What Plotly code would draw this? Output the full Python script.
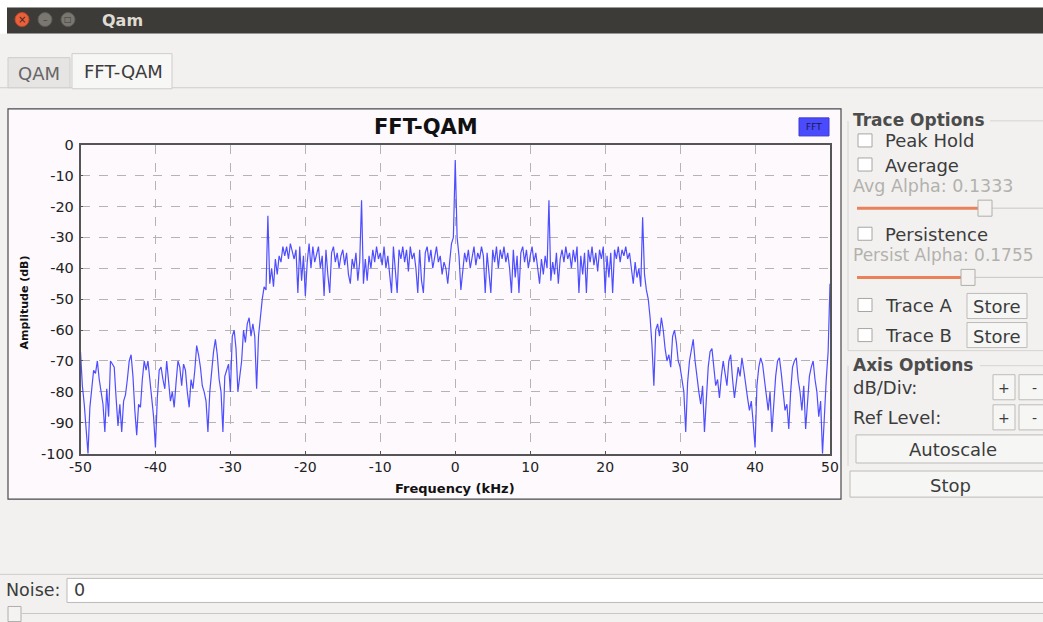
import numpy as np
import plotly.graph_objs as go

W, H = 1043, 622

# FFT magnitude in dB, 0.25 kHz bins from -50 kHz to +50 kHz
lower_tail = [
    -67, -78, -84, -91, -100, -85, -78, -73, -74, -70, -76, -80, -84, -93, -79, -88, -70, -71, -72, -82,
    -91, -84, -93, -83, -81, -76, -70, -68, -75, -86, -94, -84, -85, -76, -70, -73, -70, -76, -83, -88,
    -98, -82, -73, -72, -76, -79, -70, -76, -83, -80, -85, -77, -70, -72, -78, -71, -73, -80, -85, -76,
    -79, -73, -65, -68, -72, -78, -80, -83, -93, -80, -72, -67, -63, -68, -76, -80, -93, -75, -73, -71,
    -80, -62, -60, -66, -80, -75, -70, -60, -64, -58, -56, -62, -58, -62, -79, -62, -55, -50, -46, -47,
]
left_edge_tone = [-23]
lower_band = [
    -45, -40, -46, -37, -42, -36, -38, -33, -36, -33,
    -37, -32, -35, -37, -34, -48, -33, -44, -36, -49,
    -38, -32, -40, -33, -38, -35, -33, -40, -36, -49,
    -34, -42, -48, -35, -33, -38, -35, -40, -36, -34,
    -39, -35, -42, -45, -37, -40, -35, -44, -38, -18,
    -45, -37, -44, -36, -40, -34, -38, -33, -37, -35,
    -39, -33, -40, -36, -42, -48, -33, -40, -48, -34,
    -37, -33, -38, -34, -41, -33, -37, -35, -40, -48,
    -34, -44, -48, -35, -33, -38, -34, -40, -36, -33,
    -38, -36, -42, -38, -40, -45, -38, -32, -30,
]
carrier = [-5]
upper_band = [
    -30, -36, -47, -40, -35, -38, -34, -40, -36, -33,
    -39, -35, -37, -33, -36, -48, -35, -42, -48, -34,
    -38, -33, -40, -34, -37, -33, -38, -35, -40, -48,
    -34, -43, -36, -48, -35, -33, -38, -34, -40, -36,
    -33, -38, -35, -40, -45, -37, -42, -36, -40, -18,
    -44, -38, -42, -35, -45, -37, -34, -38, -33, -37,
    -35, -40, -34, -38, -33, -48, -36, -42, -35, -48,
    -34, -38, -33, -39, -35, -41, -34, -37, -33, -48,
    -36, -43, -35, -48, -34, -37, -33, -38, -34, -36,
    -33, -37, -35, -40, -45, -38, -43, -40, -46,
]
right_edge_tone = [-23.5]
upper_tail = [
    -42, -47, -50, -56, -65, -78, -60, -58, -62, -56,
    -60, -66, -70, -68, -72, -62, -60, -64, -70, -72,
    -76, -80, -93, -77, -70, -66, -63, -70, -76, -80,
    -84, -78, -93, -82, -72, -67, -66, -72, -78, -76,
    -82, -75, -70, -74, -78, -70, -68, -76, -82, -77,
    -72, -75, -69, -73, -78, -82, -86, -83, -90, -98,
    -78, -72, -69, -71, -76, -82, -86, -80, -93, -84,
    -75, -70, -69, -74, -80, -86, -84, -92, -80, -72,
    -70, -69, -76, -80, -86, -78, -92, -82, -75, -72,
    -70, -76, -80, -88, -83, -100, -86, -76, -67, -45,
]

amp_db = lower_tail + left_edge_tone + lower_band + carrier + upper_band + right_edge_tone + upper_tail
freq_khz = np.linspace(-50, 50, len(amp_db))

x_ticks = list(range(-50, 51, 10))
y_ticks = list(range(-100, 1, 10))

GTK_FONT = 'DejaVu Sans'
PLOT_FONT = 'DejaVu Sans'

# the page ends up drawing the figure slightly inset, so window pixels are
# mapped onto that box (offset and size measured from earlier renders)
OX, OY = 11.0, 8.5
FW, FH = 1023.0, 604.0


def px(x):
    return (x - OX) / FW


def py(y):
    return 1 - (y - OY) / FH


def rect(x0, y0, x1, y1, fill, line='rgba(0,0,0,0)', width=1):
    return dict(type='rect', xref='paper', yref='paper', layer='below',
                x0=px(x0), y0=py(y1), x1=px(x1), y1=py(y0),
                fillcolor=fill, line=dict(color=line, width=width))


def hline(x0, x1, y, color, width=1):
    return dict(type='line', xref='paper', yref='paper', layer='below',
                x0=px(x0), x1=px(x1), y0=py(y), y1=py(y),
                line=dict(color=color, width=width))


def vline(x, y0, y1, color, width=1):
    return dict(type='line', xref='paper', yref='paper', layer='below',
                x0=px(x), x1=px(x), y0=py(y0), y1=py(y1),
                line=dict(color=color, width=width))


def circle(cx, cy, r, fill, line='rgba(0,0,0,0)'):
    return dict(type='circle', xref='paper', yref='paper', layer='below',
                x0=px(cx - r), x1=px(cx + r), y0=py(cy + r), y1=py(cy - r),
                fillcolor=fill, line=dict(color=line, width=1))


def label(x, y, text, size=18, color='#3c3c3c', bold=False, anchor='left', font=GTK_FONT, angle=0):
    if bold:
        text = '<b>' + text + '</b>'
    return dict(xref='paper', yref='paper', x=px(x), y=py(y), text=text,
                showarrow=False, xanchor=anchor, yanchor='middle', textangle=angle,
                font=dict(family=font, size=size, color=color))


shapes = []
annotations = []

# window title bar
shapes.append(rect(0, 0, W, 8, '#ffffff'))
shapes.append(rect(0, 0, 7, 34, '#ffffff'))
shapes.append(rect(7, 8, W + 20, 34, '#3c3b37'))
shapes.append(circle(22, 20, 7, '#e9603a', '#c0462a'))
shapes.append(circle(45, 20, 7, '#79776f', '#5d5b55'))
shapes.append(circle(68, 20, 7, '#79776f', '#5d5b55'))
annotations.append(label(22, 20, '×', size=10, color='#3c2a20', anchor='center'))
annotations.append(label(45, 20, '–', size=9, color='#3c3b37', anchor='center'))
annotations.append(label(68, 20, '□', size=8, color='#3c3b37', anchor='center'))
annotations.append(label(100, 21, 'Qam', size=16, color='#dfdbd2', bold=True))

# notebook tabs
shapes.append(hline(0, W + 20, 88, '#cfcdca'))
shapes.append(rect(8, 58, 70, 88, '#e6e5e3', '#cfcdca'))
shapes.append(rect(72, 54, 172, 89, '#f7f7f6', '#cfcdca'))
annotations.append(label(39, 74, 'QAM', size=18, color='#666', anchor='center'))
annotations.append(label(123, 72, 'FFT-QAM', size=18, color='#3c3c3c', anchor='center'))

# fft widget frame
shapes.append(rect(8, 109, 841, 498, '#fdf9fd', '#4a4a4a', 1.2))
annotations.append(label(426, 127, 'FFT-QAM', size=21, color='#111', bold=True, anchor='center', font=PLOT_FONT))
shapes.append(rect(799, 118, 829, 136, '#4a4aff', '#3a3ad0'))
annotations.append(label(814, 127, 'FFT', size=9, color='#1a1a40', anchor='center', font=PLOT_FONT))
annotations.append(label(24, 302, 'Amplitude (dB)', size=11, color='#111', bold=True,
                         anchor='center', font=PLOT_FONT, angle=-90))
annotations.append(label(455, 487, 'Frequency (kHz)', size=13, color='#111', bold=True,
                         anchor='center', font=PLOT_FONT))

# trace options panel
shapes.append(hline(990, W + 20, 121, '#d6d4d0'))
shapes.append(vline(848, 121, 350, '#d6d4d0'))
shapes.append(hline(848, W + 20, 350, '#d6d4d0'))
annotations.append(label(851, 120, 'Trace Options', size=17, color='#4c4c4c', bold=True))


def checkbox(y, text):
    shapes.append(rect(858, y - 7, 872, y + 6, '#ffffff', '#a8a6a2'))
    annotations.append(label(883, y, text, size=18, color='#3c3c3c'))


def button(x0, y0, x1, y1, text, size=18):
    shapes.append(rect(x0, y0, x1, y1, '#f6f6f5', '#bdbbb7'))
    annotations.append(label((x0 + x1) / 2, (y0 + y1) / 2 + 1, text, size=size, color='#3c3c3c', anchor='center'))


def slider(y, handle_x):
    shapes.append(hline(857, handle_x, y, '#e9825a', 3))
    shapes.append(hline(handle_x, W + 20, y, '#c9c7c3', 1))
    shapes.append(rect(handle_x - 7, y - 8, handle_x + 7, y + 8, '#f4f3f1', '#b0aeaa'))


checkbox(141, 'Peak Hold')
checkbox(165, 'Average')
annotations.append(label(851, 186, 'Avg Alpha: 0.1333', size=17.5, color='#b3b1ad'))
slider(208, 985)
checkbox(234, 'Persistence')
annotations.append(label(851, 255, 'Persist Alpha: 0.1755', size=17, color='#b3b1ad'))
slider(277, 968)
checkbox(305, 'Trace A')
button(967, 293, 1027, 318, 'Store')
checkbox(335, 'Trace B')
button(967, 322, 1027, 347, 'Store')

# axis options panel
shapes.append(hline(980, W + 20, 365, '#d6d4d0'))
shapes.append(vline(848, 365, 465, '#d6d4d0'))
annotations.append(label(851, 364, 'Axis Options', size=17, color='#4c4c4c', bold=True))
annotations.append(label(851, 387, 'dB/Div:', size=18, color='#3c3c3c'))
button(993, 374, 1015, 399, '+', 14)
button(1019, 374, 1050, 399, '-', 14)
annotations.append(label(851, 417, 'Ref Level:', size=18, color='#3c3c3c'))
button(993, 404, 1015, 429, '+', 14)
button(1019, 404, 1050, 429, '-', 14)
button(856, 434, 1050, 462, 'Autoscale')
button(850, 470, 1050, 496, 'Stop')

# noise entry and slider at the bottom
shapes.append(hline(0, W + 20, 573, '#cfcdca'))
annotations.append(label(4, 589, 'Noise:', size=17.5, color='#3c3c3c'))
shapes.append(rect(67, 577, W + 20, 601, '#ffffff', '#bdbbb7'))
annotations.append(label(72, 589, '0', size=17.5, color='#3c3c3c'))
shapes.append(hline(22, W + 20, 612, '#c9c7c3', 1))
shapes.append(rect(8, 605, 21, 620, '#f4f3f1', '#b0aeaa'))

trace = go.Scatter(
    x=freq_khz,
    y=amp_db,
    mode='lines',
    line=dict(color='rgb(78,78,255)', width=1.2),
    showlegend=False,
    hoverinfo='x+y',
)

fig = go.Figure(data=[trace])
fig.update_layout(
    width=W,
    height=H,
    margin=dict(l=0, r=0, t=0, b=0),
    paper_bgcolor='#f2f1f0',
    plot_bgcolor='rgba(0,0,0,0)',
    shapes=shapes,
    annotations=annotations,
    xaxis=dict(
        domain=[px(80.5), px(830)],
        range=[-50, 50],
        tickvals=x_ticks,
        ticktext=[str(v) for v in x_ticks],
        showgrid=True, gridcolor='#b4b4b4', griddash='dash', gridwidth=1,
        showline=True, linecolor='#555555', linewidth=1.5, mirror=True,
        zeroline=False,
        ticks='inside', ticklen=3, tickcolor='#555555',
        tickfont=dict(family=PLOT_FONT, size=14, color='#222'),
    ),
    yaxis=dict(
        domain=[py(452.7), py(144.7)],
        range=[-100, 0],
        tickvals=y_ticks,
        ticktext=[str(v) for v in y_ticks],
        showgrid=True, gridcolor='#b4b4b4', griddash='dash', gridwidth=1,
        showline=True, linecolor='#555555', linewidth=1.5, mirror=True,
        zeroline=False,
        ticks='inside', ticklen=3, tickcolor='#555555',
        ticklabelstandoff=2,
        tickfont=dict(family=PLOT_FONT, size=14.5, color='#222'),
    ),
)

# no page margin, and a page background that continues the window colours
page_fix = (
    "document.documentElement.style.margin='0px';"
    "document.documentElement.style.padding='0px';"
    "document.documentElement.style.minHeight='100%';"
    "document.documentElement.style.background='linear-gradient(to bottom, #ffffff 0px, #ffffff 8px, #f2f1f0 8px)';"
    "document.body.style.margin='0px';"
    "document.body.style.padding='0px';"
    "document.body.style.overflow='hidden';"
    "document.body.style.background='transparent';"
)
fig.write_html("out.html", post_script=page_fix, config={'displayModeBar': False})
